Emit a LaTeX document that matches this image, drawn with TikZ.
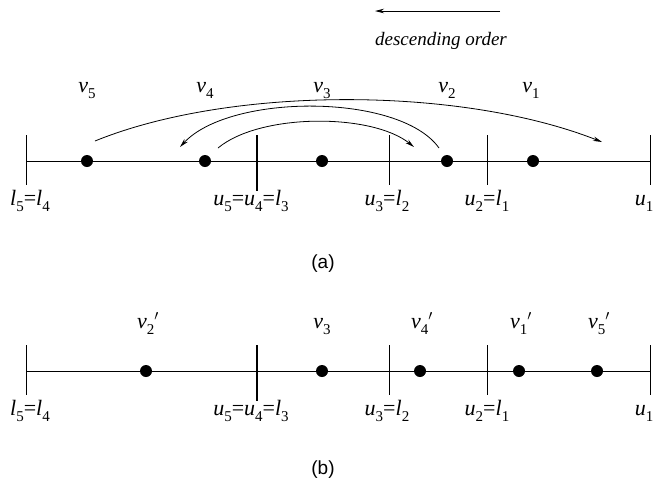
\documentclass[tikz,border=0pt]{standalone}
\usepackage{fontspec}
\setmainfont{Liberation Serif}
\setsansfont{Liberation Sans}
\usetikzlibrary{arrows.meta, positioning}
\newcommand{\varsub}[2]{\textit{#1}\raisebox{-0.3em}{\fontsize{15}{15}\selectfont #2}}

\begin{document}
\begin{tikzpicture}[
  x=1pt, y=-1pt,
  dot/.style={circle, fill, inner sep=0pt, minimum size=12pt},
  lbl/.style={font=\fontsize{22}{26}\selectfont, inner sep=0pt, anchor=base},
  bar/.style={line width=0.8pt},
  bigbar/.style={line width=2.4pt},
  panel/.style={font=\sffamily\fontsize{19}{22}\selectfont},
  arc/.style={line width=0.8pt, -{Stealth[length=9pt, width=4.5pt]}},
  line width=0.8pt
]
\useasboundingbox (0,0) rectangle (656,480);

% order arrow
\coordinate (oR) at (500,11);
\coordinate (oL) at (375,11);
\draw[arc] (oR) -- (oL);
\node[anchor=base, font=\itshape\fontsize{19}{22}\selectfont] (ord) at (441,45) {descending order};

% (a)
\coordinate (aL) at (26,161);
\coordinate (aR) at (650,161);
\draw (aL) -- (aR);
\draw[bar] (26,135) -- (26,185);
\draw[bigbar] (257,135) -- (257,191);
\draw[bar] (389,135) -- (389,185);
\draw[bar] (487,135) -- (487,185);
\draw[bar] (650,135) -- (650,185);
\node[lbl] (la1) at (30,205) {\varsub{l}{5}=\varsub{l}{4}};
\node[lbl] (la2) at (251,205) {\varsub{u}{5}=\varsub{u}{4}=\varsub{l}{3}};
\node[lbl] (la3) at (387,205) {\varsub{u}{3}=\varsub{l}{2}};
\node[lbl] (la4) at (487,205) {\varsub{u}{2}=\varsub{l}{1}};
\node[lbl] (la5) at (644,205) {\varsub{u}{1}};

\node[dot] (v5) at (87,161) {};
\node[dot] (v4) at (205,161) {};
\node[dot] (v3) at (322,161) {};
\node[dot] (v2) at (447,161) {};
\node[dot] (v1) at (533,161) {};
\node[lbl] (tv5) at (87,92) {\varsub{v}{5}};
\node[lbl] (tv4) at (205,92) {\varsub{v}{4}};
\node[lbl] (tv3) at (322,92) {\varsub{v}{3}};
\node[lbl] (tv2) at (447,92) {\varsub{v}{2}};
\node[lbl] (tv1) at (531,92) {\varsub{v}{1}};

\coordinate (s5) at (95,141);
\coordinate (e5) at (602,142);
\coordinate (s2) at (439,148);
\coordinate (e2) at (180,147);
\coordinate (s4) at (218,148);
\coordinate (e4) at (414,147);
\draw[arc] (s5) .. controls (230,86) and (460,86) .. (e5);
\draw[arc] (s2) .. controls (400,93) and (230,93) .. (e2);
\draw[arc] (s4) .. controls (260,113) and (372,113) .. (e4);

\node[panel] (pa) at (323,264) {(a)};

% (b)
\coordinate (bL) at (26,371);
\coordinate (bR) at (650,371);
\draw (bL) -- (bR);
\draw[bar] (26,345) -- (26,395);
\draw[bigbar] (257,345) -- (257,401);
\draw[bar] (389,345) -- (389,395);
\draw[bar] (487,345) -- (487,395);
\draw[bar] (650,345) -- (650,395);
\node[lbl] (lb1) at (30,415) {\varsub{l}{5}=\varsub{l}{4}};
\node[lbl] (lb2) at (251,415) {\varsub{u}{5}=\varsub{u}{4}=\varsub{l}{3}};
\node[lbl] (lb3) at (387,415) {\varsub{u}{3}=\varsub{l}{2}};
\node[lbl] (lb4) at (487,415) {\varsub{u}{2}=\varsub{l}{1}};
\node[lbl] (lb5) at (644,415) {\varsub{u}{1}};

\node[dot] (w2) at (146,371) {};
\node[dot] (w3) at (322,371) {};
\node[dot] (w4) at (420,371) {};
\node[dot] (w1) at (519,371) {};
\node[dot] (w5) at (597,371) {};
\node[lbl] (tw2) at (148,328) {\varsub{v}{2}$'$};
\node[lbl] (tw3) at (322,328) {\varsub{v}{3}};
\node[lbl] (tw4) at (422,328) {\varsub{v}{4}$'$};
\node[lbl] (tw1) at (521,328) {\varsub{v}{1}$'$};
\node[lbl] (tw5) at (599,328) {\varsub{v}{5}$'$};

\node[panel] (pb) at (323,470) {(b)};
\end{tikzpicture}
\end{document}
